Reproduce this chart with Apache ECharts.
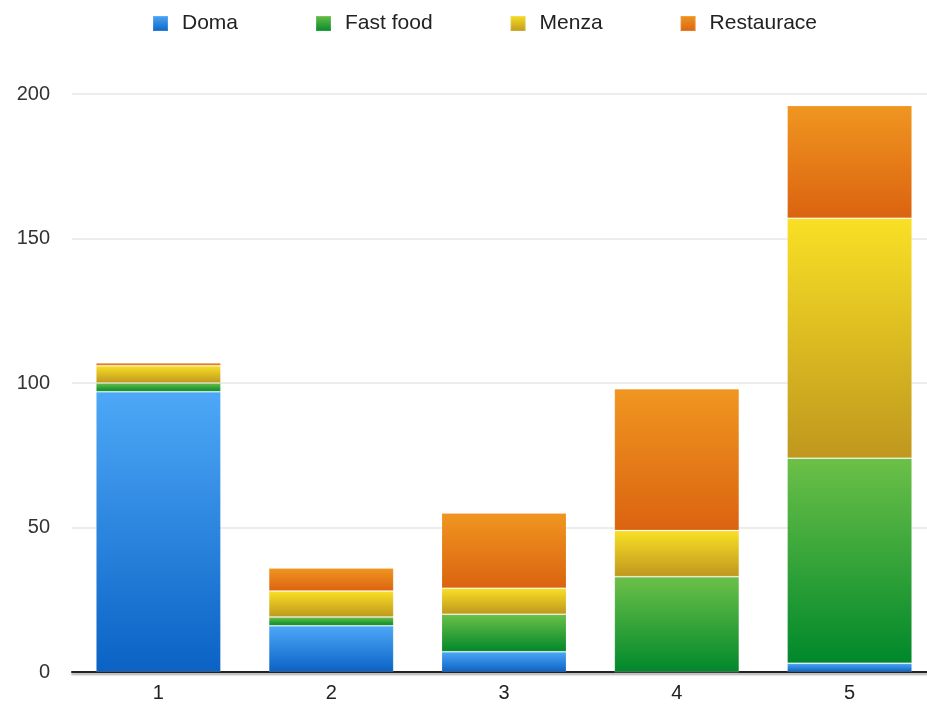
<!DOCTYPE html>
<html>
<head>
<meta charset="utf-8">
<script src="https://cdn.jsdelivr.net/npm/echarts@6/dist/echarts.min.js"></script>
<style>
  html, body { margin: 0; padding: 0; background: #fff; overflow: hidden; }
  /* plot area runs slightly past the right edge of the window */
  #chart { width: 940px; height: 705px; }
</style>
</head>
<body>
<div id="chart"></div>
<script>
// Where meals were eaten, by group
const categories = ['1', '2', '3', '4', '5'];
const doma       = [97, 16, 7, 0, 3];
const fastFood   = [3, 3, 13, 33, 71];
const menza      = [6, 9, 9, 16, 83];
const restaurace = [1, 8, 26, 49, 39];
const yTicks = { min: 0, max: 200, interval: 50 };

// top -> bottom gradient colours per series
const palette = {
  'Doma':       ['#4ea8f7', '#0a62c4'],
  'Fast food':  ['#6cc048', '#00882b'],
  'Menza':      ['#f9e025', '#bf971e'],
  'Restaurace': ['#f09620', '#db6310']
};

function grad(name) {
  const c = palette[name];
  return new echarts.graphic.LinearGradient(0, 0, 0, 1, [
    { offset: 0, color: c[0] },
    { offset: 1, color: c[1] }
  ]);
}

function makeSeries(name, values) {
  return {
    name: name,
    type: 'bar',
    stack: 'total',
    barWidth: 125,
    data: values,
    itemStyle: {
      color: grad(name),
      borderColor: 'rgba(255,255,255,0.14)',
      borderWidth: 1
    },
    emphasis: { disabled: true }
  };
}

const chart = echarts.init(document.getElementById('chart'), null, { renderer: 'canvas' });
chart.setOption({
  animation: false,
  backgroundColor: '#ffffff',
  textStyle: { fontFamily: '"Liberation Sans", Arial, sans-serif' },
  legend: {
    top: 8,
    left: 147,
    itemWidth: 15,
    itemHeight: 15,
    itemGap: 77,
    icon: 'rect',
    textStyle: { fontSize: 21, color: '#222', padding: [0, 0, 0, 9] },
    data: ['Doma', 'Fast food', 'Menza', 'Restaurace']
  },
  grid: { left: 72, top: 94, width: 864, height: 578, containLabel: false },
  xAxis: {
    type: 'category',
    data: categories,
    axisLine: {
      lineStyle: {
        color: '#222', width: 2,
        shadowColor: 'rgba(0,0,0,0.35)', shadowBlur: 2, shadowOffsetY: 2
      }
    },
    axisTick: { show: false },
    axisLabel: { fontSize: 20, color: '#222', margin: 11 }
  },
  yAxis: {
    type: 'value',
    min: yTicks.min,
    max: yTicks.max,
    interval: yTicks.interval,
    axisLine: { show: false },
    axisTick: { show: false },
    axisLabel: { fontSize: 20, color: '#333', margin: 22 },
    splitLine: { lineStyle: { color: '#ededed', width: 2 } }
  },
  series: [
    makeSeries('Doma', doma),
    makeSeries('Fast food', fastFood),
    makeSeries('Menza', menza),
    makeSeries('Restaurace', restaurace)
  ]
});
</script>
</body>
</html>
